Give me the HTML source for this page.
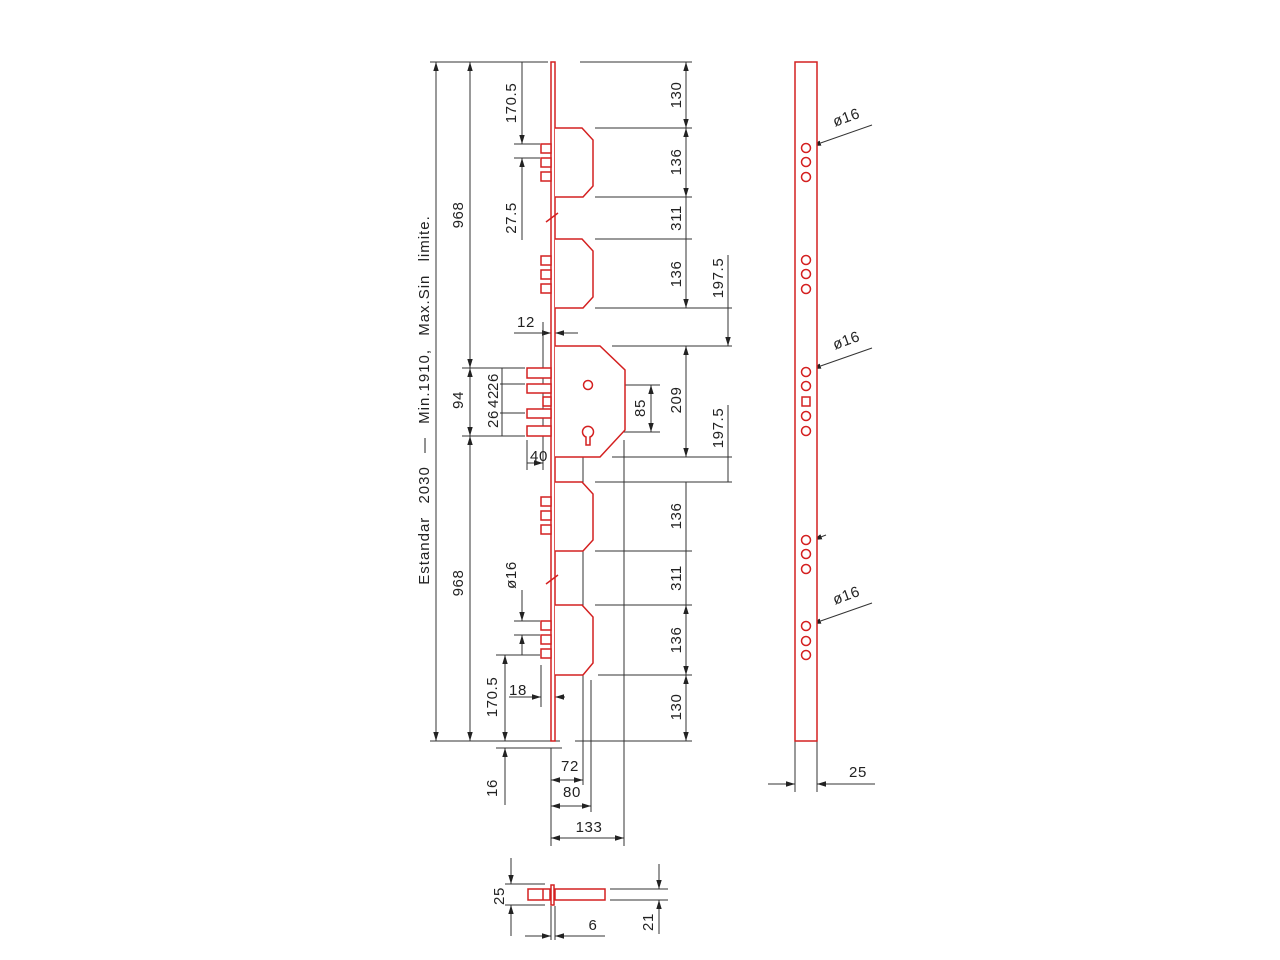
<!DOCTYPE html>
<html><head><meta charset="utf-8"><style>
html,body{margin:0;padding:0;background:#fff;}
svg{display:block;}
text{font-family:"Liberation Sans",sans-serif;font-size:15px;letter-spacing:0.6px;fill:#222;}
</style></head><body>
<svg width="1280" height="960" viewBox="0 0 1280 960" xmlns="http://www.w3.org/2000/svg">
<defs>
<marker id="a" viewBox="0 0 10 10" refX="10" refY="5" markerWidth="9" markerHeight="9" orient="auto-start-reverse" markerUnits="userSpaceOnUse"><path d="M0,2 L10,5 L0,8 z" fill="#222"/></marker>
</defs>
<g stroke="#333" stroke-width="1" fill="none">
<line x1="430" y1="62" x2="548" y2="62"/><line x1="430" y1="741" x2="560" y2="741"/>
<line x1="580" y1="62" x2="692" y2="62"/>
<line x1="595" y1="128" x2="692" y2="128"/><line x1="595" y1="197" x2="692" y2="197"/>
<line x1="595" y1="239" x2="692" y2="239"/><line x1="595" y1="308" x2="732" y2="308"/>
<line x1="612" y1="346" x2="732" y2="346"/><line x1="612" y1="457" x2="732" y2="457"/>
<line x1="595" y1="482" x2="732" y2="482"/><line x1="595" y1="551" x2="692" y2="551"/>
<line x1="595" y1="605" x2="692" y2="605"/><line x1="598" y1="675" x2="692" y2="675"/>
<line x1="575" y1="741" x2="692" y2="741"/>
<line x1="595" y1="385" x2="660" y2="385"/><line x1="600" y1="432" x2="660" y2="432"/>
<line x1="686" y1="62" x2="686" y2="128" marker-start="url(#a)" marker-end="url(#a)"/>
<line x1="686" y1="128" x2="686" y2="197" marker-start="url(#a)" marker-end="url(#a)"/>
<line x1="686" y1="197" x2="686" y2="239"/>
<line x1="686" y1="239" x2="686" y2="308" marker-end="url(#a)"/>
<line x1="686" y1="346" x2="686" y2="457" marker-start="url(#a)" marker-end="url(#a)"/>
<line x1="686" y1="482" x2="686" y2="551"/>
<line x1="686" y1="551" x2="686" y2="605"/>
<line x1="686" y1="605" x2="686" y2="675" marker-start="url(#a)" marker-end="url(#a)"/>
<line x1="686" y1="675" x2="686" y2="741" marker-start="url(#a)" marker-end="url(#a)"/>
<line x1="728" y1="255" x2="728" y2="346" marker-end="url(#a)"/>
<line x1="728" y1="405" x2="728" y2="457"/><line x1="728" y1="457" x2="728" y2="482"/>
<line x1="651" y1="385" x2="651" y2="432" marker-start="url(#a)" marker-end="url(#a)"/>
<line x1="436" y1="62" x2="436" y2="741" marker-start="url(#a)" marker-end="url(#a)"/>
<line x1="470" y1="62" x2="470" y2="368" marker-start="url(#a)" marker-end="url(#a)"/>
<line x1="470" y1="368" x2="470" y2="436" marker-start="url(#a)" marker-end="url(#a)"/>
<line x1="470" y1="436" x2="470" y2="741" marker-start="url(#a)" marker-end="url(#a)"/>
<line x1="462" y1="368" x2="525" y2="368"/><line x1="462" y1="436" x2="525" y2="436"/>
<line x1="500" y1="384" x2="525" y2="384"/><line x1="500" y1="413" x2="525" y2="413"/>
<line x1="502" y1="368" x2="502" y2="436"/>
<line x1="522" y1="62" x2="522" y2="144" marker-end="url(#a)"/>
<line x1="522" y1="158" x2="522" y2="240" marker-start="url(#a)"/>
<line x1="514" y1="144" x2="540" y2="144"/><line x1="514" y1="158" x2="540" y2="158"/>
<line x1="514" y1="333" x2="551" y2="333" marker-end="url(#a)"/>
<line x1="555" y1="333" x2="578" y2="333" marker-start="url(#a)"/>
<line x1="543" y1="322" x2="543" y2="470"/>
<line x1="527" y1="440" x2="527" y2="470"/>
<line x1="527" y1="463" x2="543" y2="463" marker-end="url(#a)"/>
<line x1="522" y1="590" x2="522" y2="621" marker-end="url(#a)"/>
<line x1="522" y1="635" x2="522" y2="655" marker-start="url(#a)"/>
<line x1="514" y1="621" x2="540" y2="621"/><line x1="514" y1="635" x2="540" y2="635"/>
<line x1="496" y1="655" x2="540" y2="655"/>
<line x1="505" y1="655" x2="505" y2="741" marker-start="url(#a)" marker-end="url(#a)"/>
<line x1="509" y1="697" x2="541" y2="697" marker-end="url(#a)"/>
<line x1="555" y1="697" x2="565" y2="697" marker-start="url(#a)"/>
<line x1="541" y1="665" x2="541" y2="707"/>
<line x1="496" y1="748" x2="562" y2="748"/>
<line x1="505" y1="748" x2="505" y2="805" marker-start="url(#a)"/>
<line x1="551" y1="748" x2="551" y2="846"/>
<line x1="583" y1="442" x2="583" y2="785"/><line x1="591" y1="680" x2="591" y2="812"/><line x1="624" y1="440" x2="624" y2="846"/>
<line x1="551" y1="780" x2="583" y2="780" marker-start="url(#a)" marker-end="url(#a)"/>
<line x1="551" y1="806" x2="591" y2="806" marker-start="url(#a)" marker-end="url(#a)"/>
<line x1="551" y1="838" x2="624" y2="838" marker-start="url(#a)" marker-end="url(#a)"/>
<line x1="795" y1="741" x2="795" y2="792"/><line x1="817" y1="741" x2="817" y2="792"/>
<line x1="768" y1="784" x2="795" y2="784" marker-end="url(#a)"/>
<line x1="817" y1="784" x2="875" y2="784" marker-start="url(#a)"/>
<line x1="872" y1="125" x2="812" y2="146" marker-end="url(#a)"/>
<line x1="872" y1="348" x2="812" y2="369" marker-end="url(#a)"/>
<line x1="872" y1="603" x2="812" y2="624" marker-end="url(#a)"/>
<line x1="826" y1="535" x2="813" y2="540" marker-end="url(#a)"/>
<line x1="511" y1="858" x2="511" y2="884" marker-end="url(#a)"/>
<line x1="511" y1="905" x2="511" y2="936" marker-start="url(#a)"/>
<line x1="505" y1="884" x2="545" y2="884"/><line x1="505" y1="905" x2="545" y2="905"/>
<line x1="610" y1="889" x2="668" y2="889"/><line x1="610" y1="900" x2="668" y2="900"/>
<line x1="659" y1="864" x2="659" y2="889" marker-end="url(#a)"/>
<line x1="659" y1="900" x2="659" y2="934" marker-start="url(#a)"/>
<line x1="551" y1="906" x2="551" y2="940"/><line x1="555" y1="906" x2="555" y2="940"/>
<line x1="525" y1="936" x2="551" y2="936" marker-end="url(#a)"/>
<line x1="555" y1="936" x2="605" y2="936" marker-start="url(#a)"/>
</g>
<g stroke="#d42020" stroke-width="1.5" fill="#fff">
<rect x="551" y="62" width="4" height="679"/>
<line x1="546" y1="222" x2="558" y2="213"/><line x1="546" y1="584" x2="558" y2="575"/>
<path d="M555,128 H582 L593,140 V186 L583,197 H555"/>
<path d="M555,239 H582 L593,251 V297 L583,308 H555"/>
<path d="M555,346 H600 L625,370 V430 L600,457 H555"/>
<path d="M555,482 H582 L593,494 V540 L583,551 H555"/>
<path d="M555,605 H582 L593,617 V663 L583,675 H555"/>
<rect x="541" y="144" width="10" height="9"/><rect x="541" y="158" width="10" height="9"/><rect x="541" y="172" width="10" height="9"/>
<rect x="541" y="256" width="10" height="9"/><rect x="541" y="270" width="10" height="9"/><rect x="541" y="284" width="10" height="9"/>
<rect x="527" y="368" width="24" height="10"/><rect x="527" y="384" width="24" height="9"/><rect x="543" y="397" width="8" height="9"/><rect x="527" y="409" width="24" height="9"/><rect x="527" y="426" width="24" height="10"/>
<rect x="541" y="497" width="10" height="9"/><rect x="541" y="511" width="10" height="9"/><rect x="541" y="525" width="10" height="9"/>
<rect x="541" y="621" width="10" height="9"/><rect x="541" y="635" width="10" height="9"/><rect x="541" y="649" width="10" height="9"/>
<circle cx="588" cy="385" r="4.5"/>
<path d="M586,437 A5.5,5.5 0 1 1 590,437 V445 H586 Z"/>
<rect x="795" y="62" width="22" height="679"/>
<g fill="none">
<circle cx="806" cy="148" r="4.5"/><circle cx="806" cy="162" r="4.5"/><circle cx="806" cy="177" r="4.5"/>
<circle cx="806" cy="260" r="4.5"/><circle cx="806" cy="274" r="4.5"/><circle cx="806" cy="289" r="4.5"/>
<circle cx="806" cy="372" r="4.5"/><circle cx="806" cy="386" r="4.5"/><rect x="802" y="397" width="8" height="9"/><circle cx="806" cy="416" r="4.5"/><circle cx="806" cy="431" r="4.5"/>
<circle cx="806" cy="540" r="4.5"/><circle cx="806" cy="554" r="4.5"/><circle cx="806" cy="569" r="4.5"/>
<circle cx="806" cy="626" r="4.5"/><circle cx="806" cy="641" r="4.5"/><circle cx="806" cy="655" r="4.5"/>
</g>
<rect x="528" y="889" width="22" height="11"/><line x1="543" y1="889" x2="543" y2="900"/>
<rect x="551" y="885" width="3" height="20"/>
<rect x="555" y="889" width="50" height="11"/>
</g>
<g>
<text transform="translate(429,400) rotate(-90)" text-anchor="middle" font-size="16" style="letter-spacing:1px;word-spacing:8px">Estandar  2030  —  Min.1910,  Max.Sin  limite.</text>
<text transform="translate(463,215) rotate(-90)" text-anchor="middle">968</text>
<text transform="translate(463,583) rotate(-90)" text-anchor="middle">968</text>
<text transform="translate(463,400) rotate(-90)" text-anchor="middle">94</text>
<text transform="translate(498,382) rotate(-90)" text-anchor="middle">26</text>
<text transform="translate(498,399) rotate(-90)" text-anchor="middle">42</text>
<text transform="translate(498,419) rotate(-90)" text-anchor="middle">26</text>
<text transform="translate(516,103) rotate(-90)" text-anchor="middle">170.5</text>
<text transform="translate(516,218) rotate(-90)" text-anchor="middle">27.5</text>
<text transform="translate(516,575) rotate(-90)" text-anchor="middle">ø16</text>
<text transform="translate(497,697) rotate(-90)" text-anchor="middle">170.5</text>
<text transform="translate(497,788) rotate(-90)" text-anchor="middle">16</text>
<text x="526" y="327" text-anchor="middle">12</text>
<text x="539" y="461" text-anchor="middle">40</text>
<text x="518" y="695" text-anchor="middle">18</text>
<text x="570" y="771" text-anchor="middle">72</text>
<text x="572" y="797" text-anchor="middle">80</text>
<text x="589" y="832" text-anchor="middle">133</text>
<text transform="translate(681,95) rotate(-90)" text-anchor="middle">130</text>
<text transform="translate(681,162) rotate(-90)" text-anchor="middle">136</text>
<text transform="translate(681,218) rotate(-90)" text-anchor="middle">311</text>
<text transform="translate(681,274) rotate(-90)" text-anchor="middle">136</text>
<text transform="translate(681,400) rotate(-90)" text-anchor="middle">209</text>
<text transform="translate(681,516) rotate(-90)" text-anchor="middle">136</text>
<text transform="translate(681,578) rotate(-90)" text-anchor="middle">311</text>
<text transform="translate(681,640) rotate(-90)" text-anchor="middle">136</text>
<text transform="translate(681,707) rotate(-90)" text-anchor="middle">130</text>
<text transform="translate(723,278) rotate(-90)" text-anchor="middle">197.5</text>
<text transform="translate(723,428) rotate(-90)" text-anchor="middle">197.5</text>
<text transform="translate(645,408) rotate(-90)" text-anchor="middle">85</text>
<text transform="translate(848,122) rotate(-20)" text-anchor="middle" font-size="13">ø16</text>
<text transform="translate(848,345) rotate(-20)" text-anchor="middle" font-size="13">ø16</text>
<text transform="translate(848,600) rotate(-20)" text-anchor="middle" font-size="13">ø16</text>
<text x="858" y="777" text-anchor="middle">25</text>
<text transform="translate(504,896) rotate(-90)" text-anchor="middle">25</text>
<text transform="translate(653,922) rotate(-90)" text-anchor="middle">21</text>
<text x="593" y="930" text-anchor="middle">6</text>
</g>
</svg>
</body></html>
